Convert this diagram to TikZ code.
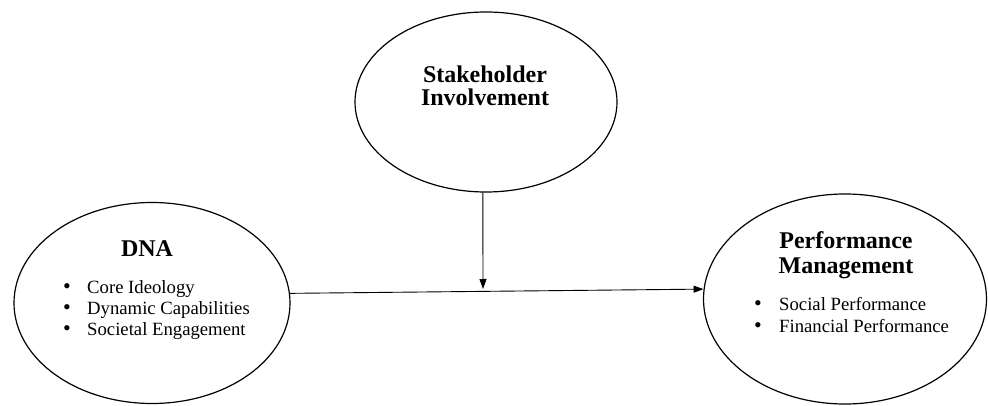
\documentclass[tikz,border=0pt]{standalone}
\usepackage{fontspec}
\setmainfont{Liberation Serif}
\usetikzlibrary{shapes.geometric,arrows.meta}
\begin{document}
\begin{tikzpicture}[x=1pt,y=-1pt,
  oval/.style={draw,ellipse,line width=1.2pt,inner sep=0pt},
  ttl/.style={font=\fontsize{24}{24}\selectfont\bfseries,anchor=base,inner sep=0pt},
  itm/.style={font=\fontsize{18.7}{18.7}\selectfont,anchor=base west,inner sep=0pt},
  bul/.style={font=\fontsize{22}{22}\selectfont,anchor=base,inner sep=0pt},
  conn/.style={line width=0.9pt,-{Triangle[length=10pt,width=7pt]}}]
\useasboundingbox (0,0) rectangle (988,406);
% ellipses
\node[oval,minimum width=276pt,minimum height=201pt] (dna) at (152,303) {};
\node[oval,minimum width=283pt,minimum height=210pt] (pm) at (845,299) {};
\node[oval,minimum width=262pt,minimum height=180pt] (sh) at (486,102) {};
% texts
\node[ttl] (dnat) at (147,257) {DNA};
\node[bul] (b1) at (67,293) {\textbullet};
\node[bul] (b2) at (67,314) {\textbullet};
\node[bul] (b3) at (67,335) {\textbullet};
\node[itm] (i1) at (87,293) {Core Ideology};
\node[itm] (i2) at (87,314) {Dynamic Capabilities};
\node[itm] (i3) at (87,335) {Societal Engagement};
\node[ttl] (pmt1) at (846,249) {Performance};
\node[ttl] (pmt2) at (846,273) {Management};
\node[bul] (b4) at (758,310) {\textbullet};
\node[bul] (b5) at (758,332) {\textbullet};
\node[itm] (i4) at (779,310) {Social Performance};
\node[itm] (i5) at (779,332) {Financial Performance};
\node[ttl] (sht1) at (485,83) {Stakeholder};
\node[ttl] (sht2) at (485,106) {Involvement};
% connectors
\coordinate (mid) at (483,289);
\draw[conn] (dna.4.6) -- (pm.176.4);
\draw[conn] (sh.268) -- (mid);
\end{tikzpicture}
\end{document}
